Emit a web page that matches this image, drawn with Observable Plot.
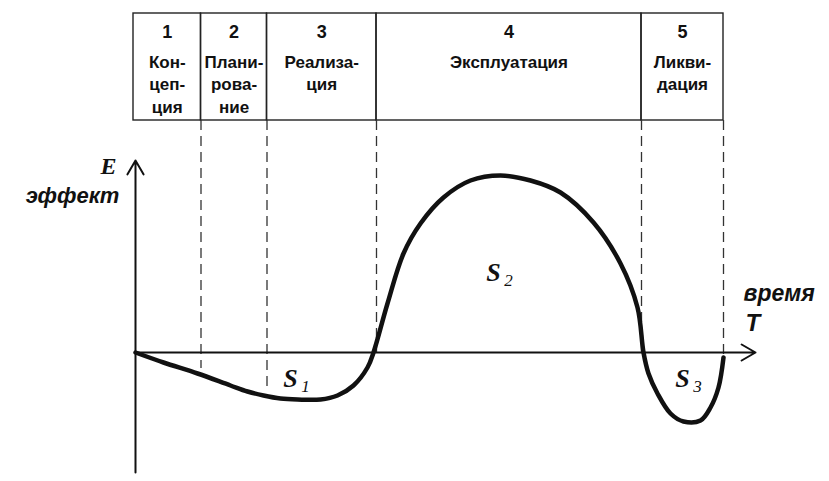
<!DOCTYPE html>
<html>
<head>
<meta charset="utf-8">
<script src="https://cdn.jsdelivr.net/npm/d3@7"></script>
<script src="https://cdn.jsdelivr.net/npm/@observablehq/plot@0.6"></script>
<style>
  html, body { margin: 0; padding: 0; background: #fff; }
</style>
</head>
<body>
<div id="chart"></div>
<script>
// Phases of the project life cycle
const phaseNumbers = ["1", "2", "3", "4", "5"];
const phaseNames = ["Кон-\nцеп-\nция", "Плани-\nрова-\nние", "Реализа-\nция", "Эксплуатация", "Ликви-\nдация"];
const phaseBounds = [-0.04, 1.31, 2.63, 4.82, 10.12, 11.76];
const dashEnds = [-0.8, -1.8, 0, 0, -0.2];

// Effect curve E(T)
const curveT = [0, 0.56, 1.24, 1.9, 2.24, 2.56, 2.9, 3.24, 3.7, 4.04, 4.36, 4.64, 4.76,
  5.04, 5.36, 5.7, 6.16, 6.7, 7.3, 7.9, 8.5, 9.16, 9.7, 10.04, 10.16,
  10.26, 10.44, 10.7, 10.96, 11.3, 11.5, 11.66, 11.76];
const curveE = [0, -0.5, -1.05, -1.65, -1.95, -2.15, -2.3, -2.35, -2.35, -2.15, -1.65, -0.75, 0,
  2.45, 4.95, 6.45, 7.75, 8.6, 8.85, 8.6, 8.0, 6.5, 4.45, 2.25, 0,
  -1.05, -2.05, -3.05, -3.45, -3.4, -2.75, -1.75, -0.25];

// Area labels S1, S2, S3
const areaLabels = ["S", "S", "S"];
const areaSubs = ["1", "2", "3"];
const areaT = [3.1, 7.16, 10.94];
const areaE = [-1.3, 4.0, -1.3];

// Axis labels
const yLabelSymbol = "E";
const yLabelWord = "эффект";
const xLabelWord = "время";
const xLabelSymbol = "T";

const tableBottom = 11.6, tableTop = 16.95;

const phases = phaseNumbers.map((n, i) => ({
  num: n, name: phaseNames[i],
  x1: phaseBounds[i], x2: phaseBounds[i + 1],
  xc: (phaseBounds[i] + phaseBounds[i + 1]) / 2
}));
const dividers = phaseBounds.slice(1).map((x, i) => ({x, end: dashEnds[i]}));
const curve = curveT.map((t, i) => ({t, e: curveE[i]}));
const areas = areaLabels.map((s, i) => ({s, sub: areaSubs[i], t: areaT[i], e: areaE[i]}));

const ink = "#111";

const chart = Plot.plot({
  width: 829,
  height: 481,
  marginLeft: 135,
  marginRight: 74,
  marginTop: 12,
  marginBottom: 9,
  x: {domain: [0, 12.4], axis: null},
  y: {domain: [-6, 17], axis: null},
  style: {background: "#fff", overflow: "visible"},
  marks: [
    // table cells
    Plot.rect(phases, {x1: "x1", x2: "x2", y1: tableBottom, y2: tableTop, fill: "none", stroke: "#222", strokeWidth: 1.4}),
    Plot.text(phases, {x: "xc", y: 16.0, text: "num", fontSize: 18, fontWeight: "bold", fontFamily: "Liberation Sans, Arial, sans-serif", fill: ink}),
    Plot.text(phases, {x: "xc", y: 15.05, text: "name", lineAnchor: "top", lineHeight: 1.33, fontSize: 17, fontWeight: "bold", fontFamily: "Liberation Sans, Arial, sans-serif", fill: ink}),
    // dashed phase boundaries
    Plot.ruleX(dividers, {x: "x", y1: tableBottom, y2: "end", stroke: "#333", strokeWidth: 1.3, strokeDasharray: "10,6"}),
    // axes
    Plot.arrow([{x1: 0, y1: -6, x2: 0, y2: 9.6}], {x1: "x1", y1: "y1", x2: "x2", y2: "y2", stroke: ink, strokeWidth: 2, headLength: 12}),
    Plot.arrow([{x1: 0, y1: 0, x2: 12.4, y2: 0}], {x1: "x1", y1: "y1", x2: "x2", y2: "y2", stroke: ink, strokeWidth: 2, headLength: 12}),
    // curve
    Plot.line(curve, {x: "t", y: "e", curve: "catmull-rom", stroke: ink, strokeWidth: 4.5, strokeLinejoin: "round", strokeLinecap: "round"}),
    // area labels
    Plot.text(areas, {x: "t", y: "e", text: "s", fontSize: 26, fontStyle: "italic", fontWeight: "bold", fontFamily: "Liberation Serif, Times New Roman, serif", fill: ink}),
    Plot.text(areas, {x: "t", y: "e", dx: 15, dy: 8, text: "sub", fontSize: 17, fontStyle: "italic", fontFamily: "Liberation Serif, Times New Roman, serif", fill: ink}),
    // axis labels
    Plot.text([yLabelSymbol], {x: -0.54, y: 9.3, text: d => d, fontSize: 24, fontStyle: "italic", fontWeight: "bold", fontFamily: "Liberation Serif, Times New Roman, serif", fill: ink}),
    Plot.text([yLabelWord], {x: -1.26, y: 7.85, text: d => d, fontSize: 22, fontStyle: "italic", fontWeight: "bold", fontFamily: "Liberation Sans, Arial, sans-serif", fill: ink}),
    Plot.text([xLabelWord], {x: 12.16, y: 2.95, text: d => d, textAnchor: "start", fontSize: 23, fontStyle: "italic", fontWeight: "bold", fontFamily: "Liberation Sans, Arial, sans-serif", fill: ink}),
    Plot.text([xLabelSymbol], {x: 12.2, y: 1.45, text: d => d, textAnchor: "start", fontSize: 24, fontStyle: "italic", fontWeight: "bold", fontFamily: "Liberation Sans, Arial, sans-serif", fill: ink})
  ]
});
document.getElementById("chart").appendChild(chart);
</script>
</body>
</html>
